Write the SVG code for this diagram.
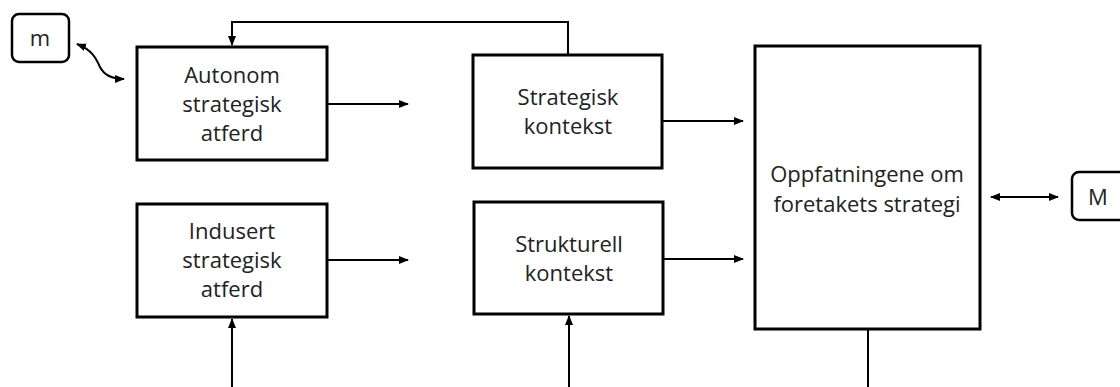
<svg xmlns="http://www.w3.org/2000/svg" width="1120" height="387" viewBox="0 0 1120 387">
<style>
.box{fill:#fff;stroke:#000;stroke-width:3}
.rbox{fill:#fff;stroke:#000;stroke-width:2.5}
.t{font-family:"Open Sans","Liberation Sans",sans-serif;font-size:22px;fill:#222;text-anchor:middle}
.c{fill:none;stroke:#000;stroke-width:2}
</style>
<defs>
<marker id="ah" viewBox="0 0 10 10" refX="9" refY="5" markerWidth="5" markerHeight="5" orient="auto-start-reverse" markerUnits="strokeWidth">
<path d="M0,1 L10,5 L0,9 z" fill="#000"/>
</marker>
</defs>
<g id="connectors">
<path class="c" d="M568,54 V22 H232 V45" marker-end="url(#ah)"/>
<path class="c" d="M327,104 H408" marker-end="url(#ah)"/>
<path class="c" d="M327,260 H408" marker-end="url(#ah)"/>
<path class="c" d="M662,121 H743" marker-end="url(#ah)"/>
<path class="c" d="M663,259 H743" marker-end="url(#ah)"/>
<path class="c" d="M232,387 V319" marker-end="url(#ah)"/>
<path class="c" d="M569,387 V316" marker-end="url(#ah)"/>
<path class="c" d="M868,329 V387"/>
<path class="c" d="M991,197 H1058" marker-start="url(#ah)" marker-end="url(#ah)"/>
<path class="c" d="M77,44 C92,50 96,58 100,67 C104,75 112,79 124,79" marker-start="url(#ah)" marker-end="url(#ah)"/>
</g>
<g id="node-m">
<rect class="rbox" x="12" y="14" width="57" height="48" rx="7"/>
<text class="t" x="40" y="46">m</text>
</g>
<g id="node-autonom">
<rect class="box" x="137" y="47" width="190" height="113"/>
<text class="t" x="232" y="83">Autonom</text>
<text class="t" x="232" y="112">strategisk</text>
<text class="t" x="232" y="141">atferd</text>
</g>
<g id="node-indusert">
<rect class="box" x="137" y="204" width="190" height="113"/>
<text class="t" x="232" y="239">Indusert</text>
<text class="t" x="232" y="268">strategisk</text>
<text class="t" x="232" y="297">atferd</text>
</g>
<g id="node-strategisk">
<rect class="box" x="473" y="55" width="189" height="113"/>
<text class="t" x="568" y="105">Strategisk</text>
<text class="t" x="568" y="134">kontekst</text>
</g>
<g id="node-strukturell">
<rect class="box" x="474" y="202" width="189" height="112"/>
<text class="t" x="569" y="252">Strukturell</text>
<text class="t" x="569" y="281">kontekst</text>
</g>
<g id="node-oppfatningene">
<rect class="box" x="755" y="46" width="225" height="283"/>
<text class="t" x="867" y="182">Oppfatningene om</text>
<text class="t" x="867" y="212">foretakets strategi</text>
</g>
<g id="node-M">
<rect class="rbox" x="1072" y="172" width="58" height="48" rx="7"/>
<text class="t" x="1098" y="205">M</text>
</g>
</svg>
